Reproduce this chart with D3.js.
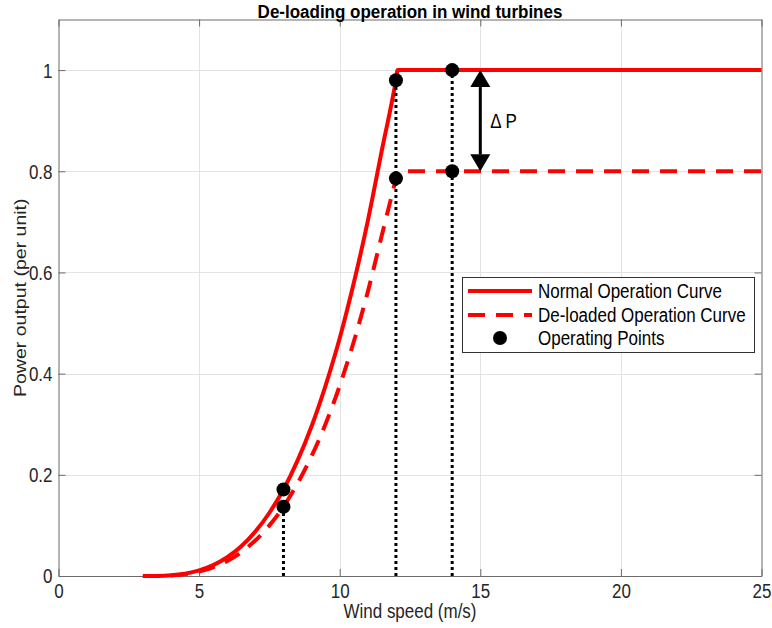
<!DOCTYPE html>
<html>
<head>
<meta charset="utf-8">
<script src="https://cdn.jsdelivr.net/npm/d3@7"></script>
<style>
  html, body { margin: 0; padding: 0; background: #fff; }
  svg { display: block; font-family: "Liberation Sans", Arial, Helvetica, sans-serif; }
</style>
</head>
<body>
<svg id="chart" width="772" height="628"></svg>
<script>
// Wind speed samples (m/s) for the power curves
const windSpeed = [3, 3.5, 4, 4.5, 5, 5.5, 6, 6.5, 7, 7.5, 8, 8.5, 9, 9.5, 10, 10.5, 11, 11.5, 12, 12.06, 25];
// Normal operation power (per unit)
const normalPower = [0, 0.0002, 0.0014, 0.0046, 0.011, 0.0214, 0.037, 0.0588, 0.0878, 0.125, 0.171, 0.228, 0.296, 0.377, 0.47, 0.579, 0.702, 0.842, 0.98, 1, 1];
// De-loaded operation power (per unit)
const deloadedPower = [0, 0.0001, 0.0011, 0.0037, 0.0088, 0.0171, 0.0296, 0.047, 0.0702, 0.1, 0.137, 0.183, 0.237, 0.301, 0.376, 0.463, 0.562, 0.674, 0.786, 0.8, 0.8];
// Operating points
const opSpeed = [8, 8, 12, 12, 14, 14];
const opPower = [0.171, 0.137, 0.98, 0.786, 1, 0.8];
// Vertical guide lines from the axis up to each operating speed
const guideSpeed = [8, 12, 14];
const guideTop = [0.137, 0.98, 1];
// Reserve arrow
const arrowSpeed = 15;
const arrowFrom = 1;
const arrowTo = 0.8;
// Axis ticks
const xTicks = [0, 5, 10, 15, 20, 25];
const yTicks = [0, 0.2, 0.4, 0.6, 0.8, 1];
const legendLabels = ["Normal Operation Curve", "De-loaded Operation Curve", "Operating Points"];

const svg = d3.select("#chart");
const L = 58.5, R = 761.5, T = 19.5, B = 576;
const x = d3.scaleLinear().domain([0, 25]).range([L, R]);
const y = d3.scaleLinear().domain([0, 1.1]).range([B, T]);
const SY = 1.15; // vertical text stretch
const textColor = "#262626";
const axisColor = "#6b6b6b";

// grid
const grid = svg.append("g");
grid.selectAll(".gx").data(xTicks.slice(1, -1)).join("line")
  .attr("x1", d => Math.round(x(d)) + 0.5).attr("x2", d => Math.round(x(d)) + 0.5)
  .attr("y1", T).attr("y2", B).attr("stroke", "#e3e3e3").attr("stroke-width", 1);
grid.selectAll(".gy").data(yTicks.slice(1)).join("line")
  .attr("y1", d => Math.round(y(d)) + 0.5).attr("y2", d => Math.round(y(d)) + 0.5)
  .attr("x1", L).attr("x2", R).attr("stroke", "#e3e3e3").attr("stroke-width", 1);

// axes frame with inward ticks on all four sides
const xAxisB = d3.axisBottom(x).tickValues(xTicks).tickSizeInner(-7).tickSizeOuter(0).tickFormat(d3.format("d"));
const xAxisT = d3.axisTop(x).tickValues(xTicks).tickSizeInner(-7).tickSizeOuter(0).tickFormat("");
const yAxisL = d3.axisLeft(y).tickValues(yTicks).tickSizeInner(-7).tickSizeOuter(0).tickFormat(d => d === 0 || d === 1 ? d3.format("d")(d) : d3.format(".1f")(d));
const yAxisR = d3.axisRight(y).tickValues(yTicks).tickSizeInner(-7).tickSizeOuter(0).tickFormat("");

function styleAxis(g) {
  g.select(".domain").attr("stroke", axisColor);
  g.selectAll(".tick line").attr("stroke", axisColor);
  g.selectAll(".tick text").attr("fill", textColor).attr("font-size", 17).attr("font-family", "Liberation Sans, Arial, sans-serif");
}
const gxB = svg.append("g").attr("transform", `translate(0,${B})`).call(xAxisB).call(styleAxis);
gxB.selectAll(".tick text").attr("y", 0).attr("dy", null)
  .attr("transform", `translate(0,15) scale(1,${SY})`).attr("dominant-baseline", "central");
svg.append("g").attr("transform", `translate(0,${T})`).call(xAxisT).call(styleAxis);
const gyL = svg.append("g").attr("transform", `translate(${L},0)`).call(yAxisL).call(styleAxis);
gyL.selectAll(".tick text").attr("x", 0).attr("dy", null)
  .attr("transform", `translate(-6,0) scale(1,${SY})`).attr("dominant-baseline", "central");
svg.append("g").attr("transform", `translate(${R},0)`).call(yAxisR).call(styleAxis);

// curves
const normalData = windSpeed.map((v, i) => [v, normalPower[i]]);
const deloadData = windSpeed.map((v, i) => [v, deloadedPower[i]]);
const line = d3.line().x(d => x(d[0])).y(d => y(d[1])).curve(d3.curveMonotoneX);

svg.append("path").datum(deloadData).attr("d", line)
  .attr("fill", "none").attr("stroke", "#ff0000").attr("stroke-width", 4)
  .attr("stroke-dasharray", "17,11");
svg.append("path").datum(normalData).attr("d", line)
  .attr("fill", "none").attr("stroke", "#ff0000").attr("stroke-width", 4);

// dotted guide lines
svg.append("g").selectAll("line").data(guideSpeed).join("line")
  .attr("x1", d => x(d)).attr("x2", d => x(d))
  .attr("y1", y(0)).attr("y2", (d, i) => y(guideTop[i]))
  .attr("stroke", "#000").attr("stroke-width", 3).attr("stroke-dasharray", "3,3");

// operating points
svg.append("g").selectAll("circle").data(opSpeed).join("circle")
  .attr("cx", d => x(d)).attr("cy", (d, i) => y(opPower[i])).attr("r", 7).attr("fill", "#000");

// double-headed reserve arrow
const ax = x(arrowSpeed), ay1 = y(arrowFrom), ay2 = y(arrowTo);
const headLen = 17, headHalf = 10;
svg.append("line").attr("x1", ax).attr("x2", ax).attr("y1", ay1 + headLen).attr("y2", ay2 - headLen)
  .attr("stroke", "#000").attr("stroke-width", 3);
svg.append("path").attr("d", `M${ax},${ay1} L${ax - headHalf},${ay1 + headLen} L${ax + headHalf},${ay1 + headLen} Z`).attr("fill", "#000");
svg.append("path").attr("d", `M${ax},${ay2} L${ax - headHalf},${ay2 - headLen} L${ax + headHalf},${ay2 - headLen} Z`).attr("fill", "#000");
svg.append("text").attr("transform", `translate(${ax + 10},${(ay1 + ay2) / 2}) scale(1,${SY})`)
  .attr("dominant-baseline", "central").attr("font-size", 17).attr("fill", "#000").text("\u0394 P");

// title and axis labels
svg.append("text").attr("transform", `translate(${(L + R) / 2},17.5) scale(1,1.06)`)
  .attr("text-anchor", "middle").attr("font-size", 17).attr("font-weight", "bold").attr("fill", "#000")
  .text("De-loading operation in wind turbines");
svg.append("text").attr("transform", `translate(${(L + R) / 2},611) scale(1,${SY})`)
  .attr("text-anchor", "middle").attr("dominant-baseline", "central").attr("font-size", 17).attr("fill", textColor)
  .text("Wind speed (m/s)");
svg.append("text").attr("transform", `translate(20,${(T + B) / 2}) rotate(-90) scale(${SY},1)`)
  .attr("text-anchor", "middle").attr("dominant-baseline", "central").attr("font-size", 17).attr("fill", textColor)
  .text("Power output (per unit)");

// legend
const lg = svg.append("g");
const lx = 462.5, ly = 277.5, lw = 292, lh = 75;
lg.append("rect").attr("x", lx).attr("y", ly).attr("width", lw).attr("height", lh)
  .attr("fill", "#fff").attr("stroke", "#333").attr("stroke-width", 1);
const rowY = [291, 315, 338];
const styles = [{ dash: null }, { dash: "17,11" }, { marker: true }];
legendLabels.forEach((lab, i) => {
  const s = styles[i];
  if (s.marker) {
    lg.append("circle").attr("cx", 500).attr("cy", rowY[i]).attr("r", 7).attr("fill", "#000");
  } else {
    lg.append("line").attr("x1", 468).attr("x2", 532).attr("y1", rowY[i]).attr("y2", rowY[i])
      .attr("stroke", "#ff0000").attr("stroke-width", 4).attr("stroke-dasharray", s.dash);
  }
  lg.append("text").attr("transform", `translate(538,${rowY[i]}) scale(1,${SY})`)
    .attr("dominant-baseline", "central").attr("font-size", 17).attr("fill", "#000").text(lab);
});
</script>
</body>
</html>
